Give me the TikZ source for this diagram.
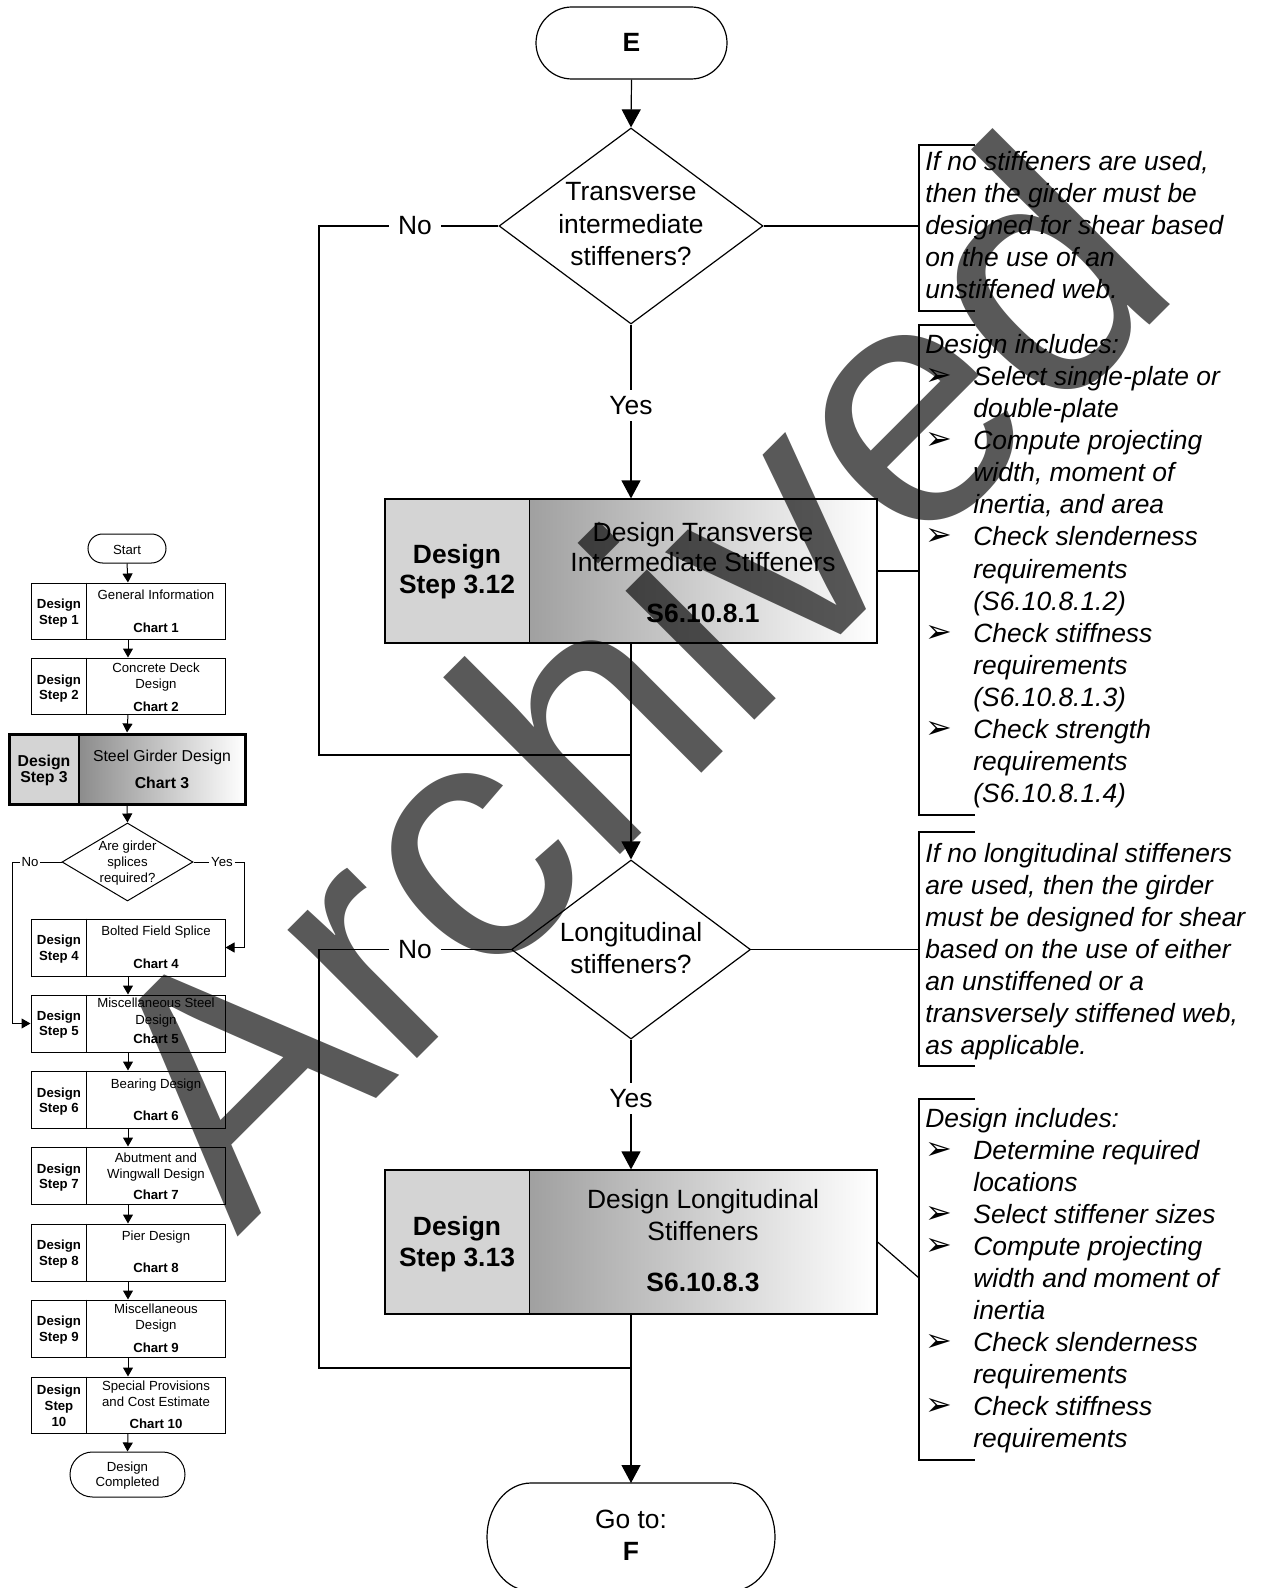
\documentclass[tikz,border=0pt]{standalone}
\usepackage{fontspec}
\setmainfont{Liberation Sans}
\newfontfamily\bulletfont{DejaVu Sans}
\usetikzlibrary{shapes.geometric,arrows.meta}

\definecolor{wmark}{RGB}{89,89,89}
\definecolor{dotpanel}{RGB}{212,212,212}
\definecolor{gradleft}{RGB}{160,160,160}
\definecolor{gradleftsm}{RGB}{140,140,140}

\tikzset{
  ln/.style={line width=0.6pt},
  arr/.style={line width=0.6pt,-{Triangle[width=9.5pt,length=9pt]}},
  sln/.style={line width=0.5pt},
  sarr/.style={line width=0.5pt,-{Triangle[width=5pt,length=4.5pt]}},
  mtxt/.style={inner sep=0pt, anchor=base, font=\fontsize{13.2}{16}\selectfont},
  mbold/.style={mtxt, font=\fontsize{13.2}{16}\selectfont\bfseries},
  atxt/.style={inner sep=0pt, anchor=base west, font=\fontsize{13.2}{16}\selectfont\itshape},
  bul/.style={inner sep=0pt, anchor=base west, font=\bulletfont\fontsize{16}{16}\selectfont},
  stxt/.style={inner sep=0pt, anchor=base, font=\fontsize{6.6}{8}\selectfont},
  sbold/.style={stxt, font=\fontsize{6.6}{8}\selectfont\bfseries},
  lbl/.style={inner xsep=4.5pt, inner ysep=3pt, font=\fontsize{13.2}{16}\selectfont},
  slbl/.style={inner xsep=0.8pt, inner ysep=0.5pt, font=\fontsize{6.6}{8}\selectfont},
  frame/.style={draw, line width=0.6pt, inner sep=0pt},
  sframe/.style={draw, line width=0.5pt, inner sep=0pt},
  dotp/.style={fill=dotpanel, inner sep=0pt},
  gradp/.style={left color=gradleft, right color=white, inner sep=0pt},
  decision/.style={diamond, draw, line width=0.6pt, inner sep=0pt},
  terminal/.style={rectangle, draw, line width=0.6pt, inner sep=0pt},
}

% small step box of the overview chart: frame plus divider
\newcommand\ministep[3]{%
  \node[sframe, minimum width=97pt, minimum height={(#3-#2)*0.5pt}] (#1) at (128,{(#2+#3)/2}) {};
  \draw[sln] ([xshift=28pt]#1.north west) -- ([xshift=28pt]#1.south west);
}

\begin{document}
\begin{tikzpicture}[x=0.5pt,y=-0.5pt]
\useasboundingbox (0,0) rectangle (1261,1588);
\fill[white] (0,0) rectangle (1261,1588);

%================ overview chart (left) ================
\node[terminal, line width=0.5pt, rounded corners=7.25pt, minimum width=39pt, minimum height=14.5pt] (start) at (127,548.5) {};
\node[stxt] (startT) at (127,554) {Start};

\ministep{s1}{583}{639}
\node[sbold] (s1a) at (59,608) {Design};
\node[sbold] (s1b) at (59,624) {Step 1};
\node[stxt] (s1c) at (156,599) {General Information};
\node[sbold] (s1d) at (156,632) {Chart 1};

\ministep{s2}{658}{714}
\node[sbold] (s2a) at (59,684) {Design};
\node[sbold] (s2b) at (59,699) {Step 2};
\node[stxt] (s2c) at (156,672) {Concrete Deck};
\node[stxt] (s2d) at (156,688) {Design};
\node[sbold] (s2e) at (156,711) {Chart 2};

% current chart, highlighted
\node[dotp, minimum width=35pt, minimum height=35pt] (s3l) at (44,769) {};
\node[left color=gradleftsm, right color=white, inner sep=0pt, minimum width=83pt, minimum height=35pt] (s3r) at (162,769) {};
\draw[line width=1pt] (s3l.north east) -- (s3l.south east);
\node[draw, line width=1.5pt, inner sep=0pt, minimum width=118pt, minimum height=35pt] (s3) at (127,769) {};
\node[inner sep=0pt, anchor=base, font=\fontsize{7.9}{9}\selectfont\bfseries] (s3a) at (44,766) {Design};
\node[inner sep=0pt, anchor=base, font=\fontsize{7.9}{9}\selectfont\bfseries] (s3b) at (44,782) {Step 3};
\node[inner sep=0pt, anchor=base, font=\fontsize{7.9}{9}\selectfont] (s3c) at (162,761) {Steel Girder Design};
\node[inner sep=0pt, anchor=base, font=\fontsize{7.9}{9}\selectfont\bfseries] (s3d) at (162,788) {Chart 3};

\node[decision, line width=0.5pt, minimum width=65.5pt, minimum height=39pt] (sd) at (127.5,862) {};
\node[stxt] (sda) at (127.5,850) {Are girder};
\node[stxt] (sdb) at (127.5,866) {splices};
\node[stxt] (sdc) at (127.5,882) {required?};
\node[slbl] (sno) at (30,862) {No};
\node[slbl] (syes) at (222,862) {Yes};

\ministep{s4}{919}{976}
\node[sbold] (s4a) at (59,944) {Design};
\node[sbold] (s4b) at (59,960) {Step 4};
\node[stxt] (s4c) at (156,935) {Bolted Field Splice};
\node[sbold] (s4d) at (156,968) {Chart 4};

\ministep{s5}{995}{1052}
\node[sbold] (s5a) at (59,1020) {Design};
\node[sbold] (s5b) at (59,1035) {Step 5};
\node[stxt] (s5c) at (156,1007) {Miscellaneous Steel};
\node[stxt] (s5d) at (156,1024) {Design};
\node[sbold] (s5e) at (156,1043) {Chart 5};

\ministep{s6}{1071}{1128}
\node[sbold] (s6a) at (59,1097) {Design};
\node[sbold] (s6b) at (59,1112) {Step 6};
\node[stxt] (s6c) at (156,1088) {Bearing Design};
\node[sbold] (s6d) at (156,1120) {Chart 6};

\ministep{s7}{1147}{1204}
\node[sbold] (s7a) at (59,1173) {Design};
\node[sbold] (s7b) at (59,1188) {Step 7};
\node[stxt] (s7c) at (156,1162) {Abutment and};
\node[stxt] (s7d) at (156,1178) {Wingwall Design};
\node[sbold] (s7e) at (156,1199) {Chart 7};

\ministep{s8}{1224}{1281}
\node[sbold] (s8a) at (59,1249) {Design};
\node[sbold] (s8b) at (59,1265) {Step 8};
\node[stxt] (s8c) at (156,1240) {Pier Design};
\node[sbold] (s8d) at (156,1272) {Chart 8};

\ministep{s9}{1300}{1357}
\node[sbold] (s9a) at (59,1325) {Design};
\node[sbold] (s9b) at (59,1341) {Step 9};
\node[stxt] (s9c) at (156,1313) {Miscellaneous};
\node[stxt] (s9d) at (156,1329) {Design};
\node[sbold] (s9e) at (156,1352) {Chart 9};

\ministep{s10}{1377}{1433}
\node[sbold] (s10a) at (59,1394) {Design};
\node[sbold] (s10b) at (59,1410) {Step};
\node[sbold] (s10c) at (59,1426) {10};
\node[stxt] (s10d) at (156,1390) {Special Provisions};
\node[stxt] (s10e) at (156,1406) {and Cost Estimate};
\node[sbold] (s10f) at (156,1428) {Chart 10};

\node[terminal, line width=0.5pt, rounded corners=11.25pt, minimum width=57.5pt, minimum height=22.5pt] (done) at (127.5,1474.5) {};
\node[stxt] (donea) at (127.5,1471) {Design};
\node[stxt] (doneb) at (127.5,1486) {Completed};

% overview connectors
\draw[sarr] (start.south) -- (s1.north);
\draw[sarr] (s1.south) -- (s2.north);
\draw[sarr] (s2.south) -- (s3.north);
\draw[sarr] (s3.south) -- (sd.north);
\coordinate (sL) at (12,862);
\coordinate (sR) at (244,862);
\draw[sln] (sd.west) -- (sno.east);
\draw[sarr] (sno.west) -- (sL) |- (s5.west);
\draw[sln] (sd.east) -- (syes.west);
\draw[sarr] (syes.east) -- (sR) |- (s4.east);
\draw[sarr] (s4.south) -- (s5.north);
\draw[sarr] (s5.south) -- (s6.north);
\draw[sarr] (s6.south) -- (s7.north);
\draw[sarr] (s7.south) -- (s8.north);
\draw[sarr] (s8.south) -- (s9.north);
\draw[sarr] (s9.south) -- (s10.north);
\draw[sarr] (s10.south) -- (done.north);

%================ chart 3 detail (main column) ================
\node[terminal, rounded corners=18pt, minimum width=95.5pt, minimum height=36pt] (E) at (631.5,43) {};
\node[mbold] (Et) at (631.5,52) {E};

\node[decision, minimum width=132pt, minimum height=98pt] (d1) at (631,226) {};
\node[mtxt] (d1a) at (631,201) {Transverse};
\node[mtxt] (d1b) at (631,234) {intermediate};
\node[mtxt] (d1c) at (631,266) {stiffeners?};
\node[lbl] (no1) at (415,226) {No};
\node[lbl] (yes1) at (631,405.5) {Yes};

% design step 3.12
\node[dotp, minimum width=72pt, minimum height=72pt] (b312l) at (457,571) {};
\node[gradp, minimum width=174pt, minimum height=72pt] (b312r) at (703,571) {};
\draw[ln] (b312l.north east) -- (b312l.south east);
\node[frame, minimum width=246pt, minimum height=72pt] (b312) at (631,571) {};
\node[mbold] (b312a) at (457,563) {Design};
\node[mbold] (b312b) at (457,593) {Step 3.12};
\node[mtxt] (b312c) at (703,541) {Design Transverse};
\node[mtxt] (b312d) at (703,571) {Intermediate Stiffeners};
\node[mbold] (b312e) at (703,622) {S6.10.8.1};

\node[decision, minimum width=119.5pt, minimum height=89.5pt] (d2) at (631,949.5) {};
\node[mtxt] (d2a) at (631,941) {Longitudinal};
\node[mtxt] (d2b) at (631,973) {stiffeners?};
\node[lbl] (no2) at (415,949.5) {No};
\node[lbl] (yes2) at (631,1098.5) {Yes};

% design step 3.13
\node[dotp, minimum width=72pt, minimum height=72pt] (b313l) at (457,1242) {};
\node[gradp, minimum width=174pt, minimum height=72pt] (b313r) at (703,1242) {};
\draw[ln] (b313l.north east) -- (b313l.south east);
\node[frame, minimum width=246pt, minimum height=72pt] (b313) at (631,1242) {};
\node[mbold] (b313a) at (457,1235) {Design};
\node[mbold] (b313b) at (457,1266) {Step 3.13};
\node[mtxt] (b313c) at (703,1208) {Design Longitudinal};
\node[mtxt] (b313d) at (703,1240) {Stiffeners};
\node[mbold] (b313e) at (703,1291) {S6.10.8.3};

% exit terminal
\draw[ln, fill=white] (531,1483) -- (731,1483)
  arc[start angle=-90, end angle=90, x radius=44, y radius=54] -- (531,1591)
  arc[start angle=90, end angle=270, x radius=44, y radius=54] -- cycle;
\coordinate (Ftop) at (631,1483);
\node[mtxt] (Fa) at (631,1528) {Go to:};
\node[mbold] (Fb) at (631,1560) {F};

% main connectors
\draw[arr] (E.south) -- (d1.north);
\draw[ln] (d1.south) -- (yes1.north);
\draw[arr] (yes1.south) -- (b312.north);
\coordinate (L1) at (319,226);
\coordinate (J1) at (631,755);
\draw[ln] (d1.west) -- (no1.east);
\draw[ln] (no1.west) -- (L1) |- (J1);
\draw[arr] (b312.south) -- (d2.north);
\draw[ln] (d2.south) -- (yes2.north);
\draw[arr] (yes2.south) -- (b313.north);
\coordinate (L2) at (319,949.5);
\coordinate (J2) at (631,1368);
\draw[ln] (d2.west) -- (no2.east);
\draw[ln] (no2.west) -- (L2) |- (J2);
\draw[arr] (b313.south) -- (Ftop);

%================ annotations ================
\draw[ln] (975,145) -- (919,145) -- (919,311) -- (975,311);
\coordinate (B1) at (919,226);
\draw[ln] (d1.east) -- (B1);
\node[atxt] (a1a) at (925,171) {If no stiffeners are used,};
\node[atxt] (a1b) at (925,203) {then the girder must be};
\node[atxt] (a1c) at (925,235) {designed for shear based};
\node[atxt] (a1d) at (925,267) {on the use of an};
\node[atxt] (a1e) at (925,299) {unstiffened web.};

\draw[ln] (975,325) -- (919,325) -- (919,815) -- (975,815);
\coordinate (B2) at (919,571);
\draw[ln] (b312.east) -- (B2);
\node[atxt] (a2a) at (925,353.5) {Design includes:};
\node[bul] (a2b1) at (925,385.6) {➢};
\node[atxt] (a2b) at (973,385.6) {Select single-plate or};
\node[atxt] (a2c) at (973,417.6) {double-plate};
\node[bul] (a2d1) at (925,449.7) {➢};
\node[atxt] (a2d) at (973,449.7) {Compute projecting};
\node[atxt] (a2e) at (973,481.8) {width, moment of};
\node[atxt] (a2f) at (973,513.9) {inertia, and area};
\node[bul] (a2g1) at (925,545.9) {➢};
\node[atxt] (a2g) at (973,545.9) {Check slenderness};
\node[atxt] (a2h) at (973,578.0) {requirements};
\node[atxt] (a2i) at (973,610.1) {(S6.10.8.1.2)};
\node[bul] (a2j1) at (925,642.1) {➢};
\node[atxt] (a2j) at (973,642.1) {Check stiffness};
\node[atxt] (a2k) at (973,674.2) {requirements};
\node[atxt] (a2l) at (973,706.3) {(S6.10.8.1.3)};
\node[bul] (a2m1) at (925,738.3) {➢};
\node[atxt] (a2m) at (973,738.3) {Check strength};
\node[atxt] (a2n) at (973,770.4) {requirements};
\node[atxt] (a2o) at (973,802.5) {(S6.10.8.1.4)};

\draw[ln] (975,832) -- (919,832) -- (919,1066) -- (975,1066);
\coordinate (B3) at (919,949.5);
\draw[ln] (d2.east) -- (B3);
\node[atxt] (a3a) at (925,862) {If no longitudinal stiffeners};
\node[atxt] (a3b) at (925,894) {are used, then the girder};
\node[atxt] (a3c) at (925,926) {must be designed for shear};
\node[atxt] (a3d) at (925,958) {based on the use of either};
\node[atxt] (a3e) at (925,990) {an unstiffened or a};
\node[atxt] (a3f) at (925,1022) {transversely stiffened web,};
\node[atxt] (a3g) at (925,1054) {as applicable.};

\draw[ln] (975,1099) -- (919,1099) -- (919,1460) -- (975,1460);
\coordinate (B4) at (919,1278);
\draw[ln] (b313.east) -- (B4);
\node[atxt] (a4a) at (925,1127) {Design includes:};
\node[bul] (a4b1) at (925,1159) {➢};
\node[atxt] (a4b) at (973,1159) {Determine required};
\node[atxt] (a4c) at (973,1191) {locations};
\node[bul] (a4d1) at (925,1223) {➢};
\node[atxt] (a4d) at (973,1223) {Select stiffener sizes};
\node[bul] (a4e1) at (925,1255) {➢};
\node[atxt] (a4e) at (973,1255) {Compute projecting};
\node[atxt] (a4f) at (973,1287) {width and moment of};
\node[atxt] (a4g) at (973,1319) {inertia};
\node[bul] (a4h1) at (925,1351) {➢};
\node[atxt] (a4h) at (973,1351) {Check slenderness};
\node[atxt] (a4i) at (973,1383) {requirements};
\node[bul] (a4j1) at (925,1415) {➢};
\node[atxt] (a4j) at (973,1415) {Check stiffness};
\node[atxt] (a4k) at (973,1447) {requirements};

%================ watermark ================
\begin{scope}[blend mode=multiply]
\node[anchor=base west, inner sep=0pt, rotate=45, text=wmark,
      font=\fontsize{172.5}{172.5}\selectfont] (wm) at (237,1238) {Archived};
\end{scope}
\end{tikzpicture}
\end{document}
